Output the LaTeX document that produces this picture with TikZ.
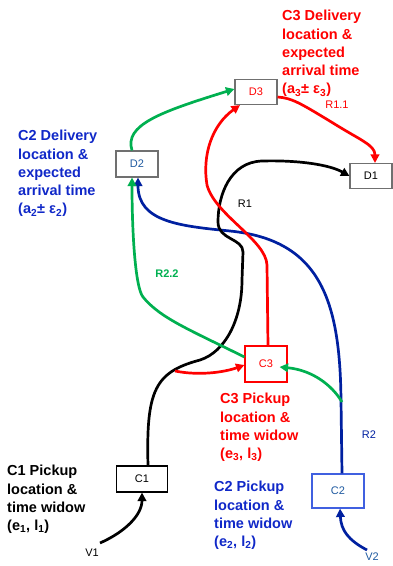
\documentclass[tikz,border=0pt]{standalone}
\usepackage{fontspec}
\setmainfont{Liberation Sans}
\usetikzlibrary{arrows.meta}
\definecolor{cred}{RGB}{255,0,0}
\definecolor{cgreen}{RGB}{0,176,80}
\definecolor{cblue}{RGB}{0,32,160}
\definecolor{ctblue}{RGB}{16,40,200}
\definecolor{cnblue}{RGB}{31,90,160}
\definecolor{cbox}{RGB}{112,112,112}
\definecolor{cctwo}{RGB}{64,96,224}
\begin{document}
\begin{tikzpicture}[x=1pt,y=-1pt,
  box/.style={draw, line width=1.1pt, minimum width=42pt, minimum height=25pt, inner sep=0pt, font=\fontsize{11}{13}\selectfont},
  route/.style={line width=2.7pt, -{Triangle[length=8.5pt,width=8.5pt]}},
  lbl/.style={font=\fontsize{14.5}{18.3}\selectfont\bfseries, align=left, anchor=north west, inner sep=0pt},
  rlbl/.style={font=\fontsize{11}{13}\selectfont, inner sep=0pt}]
\useasboundingbox (0,0) rectangle (393,566);
% boxes
\node[box, draw=cbox, text=cred] (D3) at (256,92) {D3};
\node[box, draw=cbox, text=cnblue, minimum height=26pt] (D2) at (137,164) {D2};
\node[box, draw=cbox] (D1) at (371,176) {D1};
\node[box, draw=cred, text=cred, minimum height=36pt] (C3) at (266,364) {C3};
\node[box, draw=black, minimum width=51pt, minimum height=26pt] (C1) at (142,479) {C1};
\node[box, draw=cctwo, text=cnblue, minimum width=52pt, minimum height=34pt] (C2) at (338,491) {C2};
% route labels
\node[rlbl, text=cred] (r11) at (337,105) {R1.1};
\node[rlbl] (r1) at (245,204) {R1};
\node[rlbl, text=cgreen, font=\fontsize{11}{13}\selectfont\bfseries] (r22) at (167,274) {R2.2};
\node[rlbl, text=cblue] (r2) at (369,435) {R2};
\node[rlbl] (v1) at (92,553) {V1};
\node[rlbl, text=cnblue] (v2) at (372,557) {V2};
% free ends
\coordinate (v1s) at (100,543);
\coordinate (v2s) at (367,550);
\coordinate (r3s) at (175,371);
\coordinate (g2s) at (342,402);
% blue route R2
\draw[route, cblue] (v2s) .. controls (348,540) and (341,530) .. ([xshift=2pt]C2.south);
\draw[route, cblue] ([xshift=4pt]C2.north) -- (341,400) .. controls (340,300) and (320,240) .. (230,231) .. controls (180,226) and (138,222) .. ([xshift=1pt]D2.south);
% black route R1
\draw[route] (v1s) .. controls (125,532) and (142,515) .. (C1.south);
\draw[route] ([xshift=6pt]C1.north) .. controls (146,390) and (155,372) .. (200,360) .. controls (225,352) and (242,320) .. (242,280) -- (243,252) .. controls (243,238) and (218,240) .. (218,222) .. controls (218,195) and (230,162) .. (262,161) .. controls (300,160) and (330,165) .. (D1.west);
% red routes
\draw[route, cred] (r3s) .. controls (200,376) and (225,372) .. ([yshift=-1pt]C3.west);
\draw[route, cred] ([xshift=2pt]C3.north) -- (267,265) .. controls (266,240) and (215,215) .. (207,185) .. controls (202,155) and (212,125) .. ([xshift=-16pt]D3.south);
\draw[route, cred] ([yshift=-5pt]D3.east) .. controls (292,98) and (300,103) .. (333,123) .. controls (360,140) and (375,145) .. ([xshift=4pt]D1.north);
% green routes
\draw[route, cgreen] (g2s) .. controls (332,385) and (312,370) .. ([xshift=-8pt,yshift=-3pt]C3.east);
\draw[route, cgreen] ([yshift=7pt]C3.west) .. controls (190,330) and (160,318) .. (143,297) .. controls (135,287) and (132,230) .. ([xshift=-5pt]D2.south);
\draw[route, cgreen] ([xshift=-5pt]D2.north) .. controls (124,125) and (160,112) .. ([yshift=3pt]D3.west);
% descriptions
\node[lbl, text=cred] (t3d) at (282,10) {C3 Delivery\\location \&\\expected\\arrival time\\(a\textsubscript{3}± ε\textsubscript{3})};
\node[lbl, text=ctblue] (t2d) at (18,130) {C2 Delivery\\location \&\\expected\\arrival time\\(a\textsubscript{2}± ε\textsubscript{2})};
\node[lbl, text=cred] (t3p) at (220,393) {C3 Pickup\\location \&\\time widow\\(e\textsubscript{3}, l\textsubscript{3})};
\node[lbl] (t1p) at (7,465) {C1 Pickup\\location \&\\time widow\\(e\textsubscript{1}, l\textsubscript{1})};
\node[lbl, text=ctblue] (t2p) at (214,481) {C2 Pickup\\location \&\\time widow\\(e\textsubscript{2}, l\textsubscript{2})};
\end{tikzpicture}
\end{document}
